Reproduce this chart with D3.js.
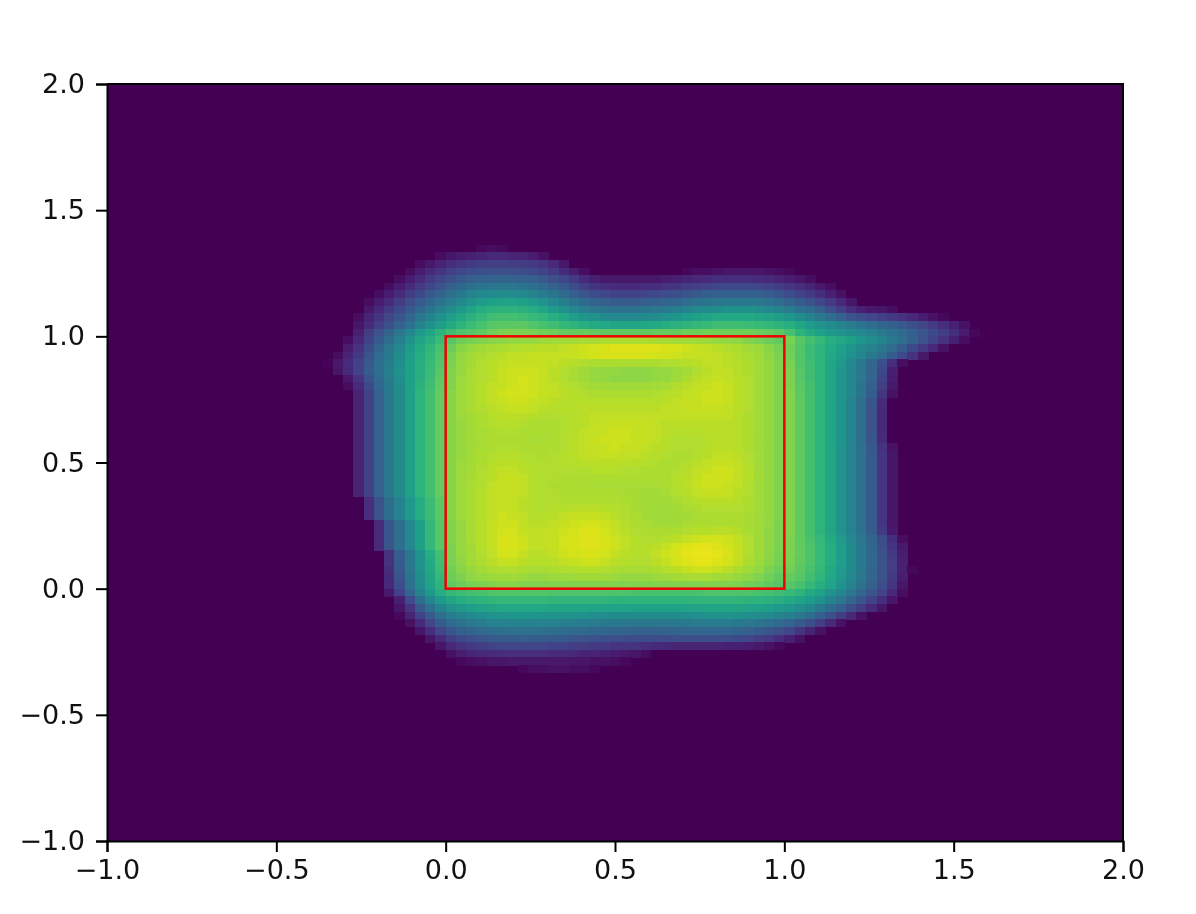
<!DOCTYPE html>
<html>
<head>
<meta charset="utf-8">
<script src="https://cdn.jsdelivr.net/npm/d3@7"></script>
<style>
  html, body { margin: 0; padding: 0; background: #fff; }
  svg { display: block; filter: blur(0.5px); }
  .tick text { font-family: "DejaVu Sans", sans-serif; font-size: 27px; fill: #111; }
</style>
</head>
<body>
<div id="chart"></div>
<script>
var xTicks = [-1, -0.5, 0, 0.5, 1, 1.5, 2];
var yTicks = [-1, -0.5, 0, 0.5, 1, 1.5, 2];
var boxX = [0, 1];
var boxY = [0, 1];

// density in percent. 99 x 99 cells over [-1, 2], only non empty rows kept.
var cellsPerAxis = 99;
var firstRow = 21;
var firstColumn = [36, 32, 30, 29, 28, 27, 26, 25, 25, 24, 24, 24, 23, 23, 22, 21, 22, 23, 23,
  24, 24, 24, 24, 24, 24, 24, 24, 24, 24, 24, 24, 24, 24, 25, 25, 25, 26, 26, 26, 26,
  27, 27, 27, 27, 27, 27, 28, 28, 28, 29, 30, 31, 32, 33, 34, 40];
var densityRows = [
  [2,3,2],
  [3,5,7,8,9,10,10,9,9,7,4],
  [3,6,9,12,14,15,16,17,17,16,16,15,14,10,6],
  [3,7,11,14,17,19,21,22,22,22,22,21,20,18,15,11,7,3,0,0,0,0,0,0,0,0,0,2,3,3,4,5,5,5,5,4,3,2],
  [3,7,11,15,19,22,25,27,28,29,29,29,28,27,25,22,19,15,11,8,6,6,6,6,6,6,7,8,9,10,11,12,12,12,12,11,10,9,7,5,3],
  [3,7,11,15,19,23,27,30,33,35,36,36,36,35,33,31,28,25,21,17,14,12,11,11,11,12,12,13,14,16,17,18,19,20,20,20,19,18,16,14,12,9,6,3],
  [3,7,11,16,20,25,29,33,37,40,43,44,44,44,43,41,38,35,31,27,24,21,19,18,18,18,19,20,21,22,24,25,27,28,28,28,28,27,26,24,21,18,15,12,8,4],
  [3,7,11,16,21,26,30,35,39,43,47,50,52,53,53,52,50,47,43,39,35,31,29,27,26,26,26,27,28,29,30,32,34,35,36,37,37,37,36,34,32,29,26,23,19,15,10,5],
  [6,10,15,20,25,30,35,40,45,49,53,57,59,60,60,59,57,54,50,46,42,39,36,35,34,34,34,35,36,37,39,41,43,44,45,46,46,46,45,43,41,38,34,31,27,22,17,12,8,6,5,3],
  [3,9,14,19,24,30,36,41,46,51,55,59,62,65,66,66,65,63,61,58,55,51,48,46,44,43,43,43,44,45,46,48,50,52,53,55,55,55,55,54,53,51,48,44,40,36,32,28,24,21,19,17,15,13,10,7,4,2],
  [5,11,17,22,28,34,40,46,51,56,60,64,67,70,71,71,71,69,67,65,62,60,58,56,55,54,54,54,55,56,57,59,60,62,63,65,65,65,64,63,62,60,58,54,50,47,44,41,38,35,32,29,27,25,22,19,15,12,8,4],
  [8,16,23,29,36,43,49,54,60,65,68,70,72,75,77,77,77,76,75,74,73,73,73,72,72,72,72,72,72,73,73,73,74,74,75,75,75,75,75,74,73,71,67,60,56,52,49,47,45,43,40,37,34,31,27,24,20,16,12,7,2],
  [3,10,18,26,32,39,46,53,58,64,70,74,76,78,79,80,81,82,82,83,84,85,85,86,86,87,87,87,87,87,86,86,85,85,84,83,82,81,80,78,76,74,72,76,70,66,62,58,55,52,48,45,41,37,33,28,23,18,13,8,3],
  [7,13,21,29,36,43,50,56,61,67,74,79,82,84,86,87,88,89,89,90,90,91,92,93,94,95,96,96,96,96,96,95,95,93,92,91,90,88,87,85,83,79,76,75,69,64,60,56,52,48,44,40,36,31,26,20,15,10,4],
  [3,9,15,23,31,37,44,51,57,62,68,76,81,84,86,88,90,91,91,92,92,92,92,92,93,94,95,95,95,95,95,94,94,93,92,92,92,91,90,88,86,84,80,77,75,69,64,60,55,51,46,42,37,32,26,20,13,6],
  [1,6,11,18,25,33,38,45,52,58,63,69,77,82,85,88,90,91,92,92,92,92,91,90,89,88,87,87,87,87,87,87,87,88,88,89,90,91,91,90,89,87,85,81,78,76,69,65,60,54,49,43,37,30,22,12,3],
  [5,11,18,26,33,39,46,52,58,64,70,78,82,86,88,90,92,93,93,93,92,90,88,86,84,82,81,81,80,80,80,81,82,83,85,88,90,91,91,89,87,85,81,78,77,70,65,60,54,48,42,36,29,20,8],
  [6,14,23,31,38,45,52,58,64,71,78,83,86,88,90,92,93,94,93,92,90,88,86,84,82,81,80,80,80,80,81,82,84,87,90,91,92,91,90,88,85,81,78,77,70,65,60,54,48,42,36,29,18,7],
  [3,11,20,30,37,44,52,59,65,72,78,83,86,89,91,92,93,94,93,92,91,89,88,86,85,84,84,84,84,84,85,86,88,90,91,92,93,92,90,88,85,81,78,77,71,66,60,54,48,42,35,27,16,6],
  [9,18,28,36,44,52,60,66,73,79,83,86,89,91,93,94,94,93,92,91,90,89,88,87,87,87,87,87,87,88,89,90,91,92,93,93,92,90,88,85,81,78,78,71,66,60,54,48,42,35,26,14,4],
  [9,18,28,36,44,52,60,66,73,79,83,86,89,91,92,93,93,92,91,90,89,89,89,89,89,89,89,89,89,89,90,91,92,92,93,93,92,90,88,85,81,78,78,72,66,60,54,48,41,33,24,11],
  [9,18,28,36,44,52,60,66,73,79,83,86,88,90,91,92,92,91,90,89,89,89,90,90,90,90,90,90,90,90,91,91,92,92,92,92,91,90,88,85,81,78,78,72,66,60,54,48,41,33,23,10],
  [9,18,28,36,44,52,60,66,73,79,83,85,87,89,90,90,90,89,88,88,88,89,90,91,91,91,91,91,91,91,91,91,91,91,91,91,91,89,87,85,81,78,78,72,66,60,54,48,41,33,23,10],
  [9,18,28,36,44,52,60,66,73,79,82,85,87,88,89,89,88,87,87,87,88,89,90,91,92,92,92,92,92,91,90,90,90,90,90,90,90,89,87,85,81,78,78,72,66,60,54,48,41,33,23,10],
  [9,18,28,36,44,52,60,66,73,79,82,85,86,87,88,88,87,87,86,87,88,89,91,92,92,93,93,92,92,91,90,89,89,89,90,90,90,89,87,85,81,78,78,72,66,60,54,48,41,33,23,10],
  [9,18,28,36,44,52,60,66,73,79,82,84,86,87,87,87,87,86,86,87,88,90,91,92,93,93,93,92,92,91,89,88,88,88,89,90,90,89,87,84,81,78,78,72,66,60,54,48,41,33,24,11],
  [9,18,28,36,44,52,60,66,73,79,82,84,86,87,88,88,87,87,87,87,88,90,91,92,92,93,92,92,91,90,89,88,88,88,89,90,90,89,87,84,81,78,78,72,66,60,54,47,41,34,25,13,4],
  [9,18,28,36,44,52,60,66,73,79,82,85,87,88,89,89,88,88,87,88,89,90,91,91,92,92,91,91,90,89,88,87,87,88,89,91,91,90,88,85,81,78,78,72,66,60,54,47,41,34,25,14,5],
  [9,18,28,36,44,52,60,66,73,79,83,85,87,89,90,90,89,88,88,88,89,89,90,90,90,90,90,89,89,88,87,87,88,90,91,92,92,91,88,85,81,78,78,72,66,60,54,47,41,34,26,14,5],
  [9,18,28,36,44,52,60,66,73,79,83,85,88,90,91,91,90,89,88,88,88,88,88,89,89,89,88,88,87,87,87,88,89,91,92,93,93,91,89,85,81,78,78,72,66,60,54,47,41,34,26,14,5],
  [9,18,28,36,44,52,60,66,73,79,83,86,88,90,92,92,91,89,88,88,87,87,87,87,87,87,87,87,87,87,87,89,90,92,93,93,93,91,89,85,81,78,78,72,66,60,54,47,41,34,26,14,5],
  [9,18,28,36,44,52,60,66,73,79,83,86,88,91,92,92,91,89,88,87,87,87,86,86,86,86,86,86,86,86,87,88,90,92,93,93,92,91,88,85,81,78,78,72,66,60,54,47,41,34,26,14,5],
  [9,18,28,36,44,52,60,66,73,79,83,86,89,91,92,92,91,89,88,88,87,87,87,87,87,87,86,86,85,85,86,88,89,91,92,92,92,90,88,85,81,78,78,72,66,60,54,47,41,34,26,14,5],
  [12,23,32,40,49,57,64,71,79,83,86,89,91,92,92,90,89,88,88,88,88,88,88,88,88,87,86,85,85,85,86,88,89,90,90,90,89,87,85,81,78,78,72,66,60,54,47,41,34,26,14,5],
  [12,23,32,40,49,57,64,71,79,83,86,89,91,92,92,90,89,88,89,89,90,90,90,89,89,88,86,85,84,84,85,86,87,88,88,88,88,87,85,81,78,78,72,66,60,54,47,41,34,26,14,5],
  [12,23,32,40,49,57,64,71,79,83,86,89,91,93,92,91,89,89,90,91,92,92,92,91,90,88,87,85,84,84,84,85,86,87,87,87,87,86,84,81,78,78,72,66,60,54,47,41,34,26,14,5],
  [11,24,33,43,52,62,70,78,82,86,89,92,93,93,91,90,90,91,92,93,94,94,93,91,89,87,86,85,85,85,86,87,87,87,87,87,86,84,81,77,78,72,66,60,54,47,41,34,26,14,5],
  [11,24,33,43,52,62,70,78,82,86,89,92,94,94,92,91,91,92,93,94,96,96,94,92,90,88,87,87,87,87,88,89,89,90,90,89,86,84,80,77,78,72,66,60,54,47,41,34,26,15,6],
  [11,24,33,43,52,62,70,78,82,86,89,92,95,95,93,91,91,92,94,95,96,96,95,93,91,89,88,88,89,90,92,93,94,94,93,91,88,84,80,77,77,72,67,62,56,50,43,36,29,21,12,3],
  [11,24,33,43,52,62,70,77,82,85,89,92,95,95,93,91,91,92,94,95,96,96,95,93,91,89,89,90,92,94,96,97,97,96,94,92,88,84,80,77,77,72,68,63,57,51,44,37,30,22,14,6],
  [13,26,37,47,57,66,77,81,85,88,91,94,94,92,90,90,91,93,94,95,95,94,92,90,89,89,91,93,95,97,98,98,97,95,92,88,84,80,76,77,73,68,63,57,51,44,37,30,23,15,7],
  [13,26,37,47,56,65,76,80,84,87,90,92,92,90,89,89,90,91,92,93,93,92,90,89,88,88,90,92,94,96,97,97,96,94,91,87,83,79,76,76,72,68,63,57,51,44,37,30,23,16,8],
  [12,25,36,46,55,64,75,79,82,85,87,88,88,87,86,86,87,88,88,89,89,88,87,86,86,86,87,89,90,92,93,93,92,90,87,84,81,77,74,75,71,67,62,56,50,44,37,30,23,16,8,2],
  [11,24,35,45,54,62,74,77,80,82,83,84,84,83,82,82,83,83,84,84,84,84,83,82,82,82,83,84,85,86,86,86,85,84,82,80,78,75,72,73,70,65,61,55,49,43,36,29,23,15,7],
  [10,22,34,44,53,60,72,74,76,77,78,79,79,78,78,78,78,78,78,78,78,78,78,78,78,78,78,78,78,78,78,78,78,78,77,75,74,72,70,70,67,62,58,53,47,41,34,28,21,14,5],
  [6,18,30,40,49,57,62,64,66,67,68,69,69,69,69,69,68,68,68,68,68,68,68,68,67,67,67,67,67,67,67,68,68,68,68,68,67,66,65,63,60,56,52,47,42,36,30,24,18,10,3],
  [8,21,32,42,49,54,57,59,60,61,62,62,62,62,62,61,61,61,61,61,61,60,60,60,60,60,60,60,60,61,61,61,61,61,60,60,59,58,56,53,50,46,41,36,30,24,18,12,5],
  [5,14,25,34,41,46,49,51,53,54,55,55,55,55,55,54,54,54,54,53,53,53,53,52,52,52,52,52,53,53,54,54,54,54,53,52,51,50,48,45,42,37,32,27,21,16,11,5],
  [2,9,18,26,33,38,41,43,45,47,47,48,48,48,47,47,46,46,46,45,45,44,44,44,44,44,44,44,45,45,46,46,46,46,45,44,43,41,39,36,32,27,22,16,10,4],
  [4,11,19,26,31,34,36,38,40,40,41,41,41,40,40,39,39,38,38,37,37,36,36,36,36,36,37,37,38,38,38,38,37,36,35,33,31,29,25,21,16,10,4],
  [5,12,19,24,27,29,31,32,33,34,34,34,33,33,32,31,31,30,30,29,29,28,28,28,29,29,30,30,30,30,30,29,28,26,24,22,19,14,9,4],
  [5,11,17,20,22,24,25,26,26,27,26,26,25,25,24,23,23,22,22,21,21,21,21,21,22,22,22,22,22,21,20,19,17,15,12,8,4],
  [5,10,13,15,17,18,19,19,19,19,19,18,18,17,16,15,15,14,14,13,12,11,10,9,9,9,9,9,8,8,7,6,4,2],
  [4,7,9,10,11,12,12,12,12,12,11,11,10,9,9,8,7,6,5,3],
  [2,3,4,5,5,6,6,6,6,6,6,5,5,4,4,3,2],
  [2,3,3,4,4,3,3,2]
];

var width = 1196;
var height = 914;
var margin = {top: 84, right: 73, bottom: 73, left: 107};

var svg = d3.select('#chart').append('svg')
  .attr('width', width)
  .attr('height', height);

var x = d3.scaleLinear().domain([-1, 2]).range([margin.left, width - margin.right]);
var y = d3.scaleLinear().domain([-1, 2]).range([height - margin.bottom, margin.top]);

// percent to colormap position, my readings ran a little low in the mid range
var norm = d3.scaleLinear().domain([0, 30, 55, 80, 90, 100]).range([0, 0.33, 0.6, 0.83, 0.895, 0.985]);
var color = function(v) { return d3.interpolateViridis(norm(v)); };

var step = 3 / cellsPerAxis;

var cells = [];
densityRows.forEach(function(row, i) {
  row.forEach(function(v, j) {
    if (v > 0) {
      cells.push({column: firstColumn[i] + j, row: firstRow + i, value: v});
    }
  });
});

// empty part of the image
svg.append('rect')
  .attr('x', x(-1))
  .attr('y', y(2))
  .attr('width', x(2) - x(-1))
  .attr('height', y(-1) - y(2))
  .attr('fill', color(0));

svg.append('g')
  .attr('shape-rendering', 'crispEdges')
  .selectAll('rect')
  .data(cells)
  .enter().append('rect')
  .attr('x', function(d) { return x(-1 + d.column * step); })
  .attr('y', function(d) { return y(2 - d.row * step); })
  .attr('width', x(step) - x(0) + 0.5)
  .attr('height', y(0) - y(step) + 0.5)
  .attr('fill', function(d) { return color(d.value); });

// the unit square
svg.append('rect')
  .attr('x', x(boxX[0]))
  .attr('y', y(boxY[1]))
  .attr('width', x(boxX[1]) - x(boxX[0]))
  .attr('height', y(boxY[0]) - y(boxY[1]))
  .attr('fill', 'none')
  .attr('stroke', '#f00000')
  .attr('stroke-width', 2.5);

var xAxis = svg.append('g')
  .attr('transform', 'translate(0,' + (height - margin.bottom) + ')')
  .call(d3.axisBottom(x).tickValues(xTicks).tickFormat(d3.format('.1f')).tickSize(11).tickPadding(8));

var yAxis = svg.append('g')
  .attr('transform', 'translate(' + margin.left + ',0)')
  .call(d3.axisLeft(y).tickValues(yTicks).tickFormat(d3.format('.1f')).tickSize(11).tickPadding(11));

svg.selectAll('.domain, .tick line')
  .attr('stroke', '#000')
  .attr('stroke-width', 2);

// frame on the two open sides
svg.append('path')
  .attr('d', d3.line()([[x(-1), y(2)], [x(2), y(2)], [x(2), y(-1)]]))
  .attr('fill', 'none')
  .attr('stroke', '#000')
  .attr('stroke-width', 2);
</script>
</body>
</html>
